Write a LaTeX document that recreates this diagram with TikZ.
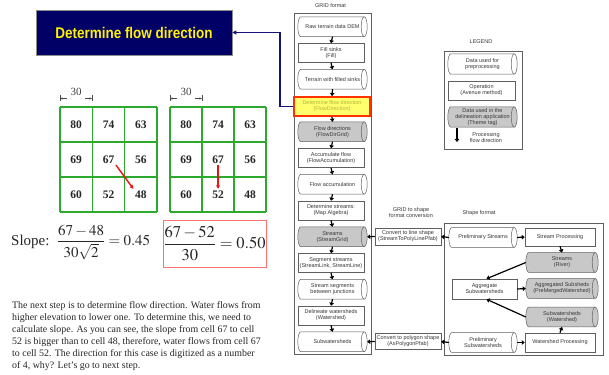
\documentclass[tikz,border=0pt]{standalone}
\usepackage{mathptmx}
\usepackage[no-math]{fontspec}
\setmainfont{Liberation Serif}
\newfontfamily\sansfam{Liberation Sans}
\usetikzlibrary{arrows.meta,calc,backgrounds}

\definecolor{navyfill}{RGB}{0,0,102}
\definecolor{navyline}{RGB}{20,20,120}
\definecolor{gridgreen}{RGB}{45,170,45}
\definecolor{flowline}{RGB}{95,95,95}
\definecolor{flowtext}{RGB}{55,55,55}
\definecolor{datagray}{RGB}{200,200,200}
\definecolor{hilite}{RGB}{255,255,110}
\definecolor{hilitetext}{RGB}{180,180,60}
\definecolor{hiliteborder}{RGB}{255,50,0}
\definecolor{slopebox}{RGB}{255,110,110}
\definecolor{pointer}{RGB}{235,20,20}

\newcommand\flowfont{\sansfam\fontsize{5.5}{6}\selectfont}

% horizontal cylinder drawn behind a data node
\newcommand\datacyl[2]{%
  \draw[flowline, line width=0.5pt, fill=#2]
    ($(#1.north west)+(3pt,0)$) -- ($(#1.north east)+(-3pt,0)$)
    .. controls ($(#1.north east)+(-1.35pt,0)$) and ($(#1.east)+(0,5.4pt)$) .. (#1.east)
    .. controls ($(#1.east)+(0,-5.4pt)$) and ($(#1.south east)+(-1.35pt,0)$) .. ($(#1.south east)+(-3pt,0)$)
    -- ($(#1.south west)+(3pt,0)$)
    .. controls ($(#1.south west)+(1.35pt,0)$) and ($(#1.west)+(0,-5.4pt)$) .. (#1.west)
    .. controls ($(#1.west)+(0,5.4pt)$) and ($(#1.north west)+(1.35pt,0)$) .. cycle;
  \draw[flowline, line width=0.5pt]
    ($(#1.north east)+(-3pt,0)$) .. controls ($(#1.north east)+(-4.65pt,0)$) and ($(#1.east)+(-6pt,5.4pt)$) .. ($(#1.east)+(-6pt,0)$)
    .. controls ($(#1.east)+(-6pt,-5.4pt)$) and ($(#1.south east)+(-4.65pt,0)$) .. ($(#1.south east)+(-3pt,0)$);
}

\tikzset{
  proc/.style={rectangle, draw=flowline, line width=0.5pt, fill=white, inner sep=0pt,
    minimum width=66, minimum height=19, align=center, font=\flowfont, text=flowtext},
  dat/.style={rectangle, inner sep=0pt, minimum width=69, minimum height=19.5,
    align=center, font=\flowfont, text=flowtext},
  lbl/.style={inner sep=0pt, align=center, font=\flowfont, text=flowtext},
  flowarrow/.style={-{Triangle[length=3pt,width=4.5pt]}, line width=1.2pt, black},
  gridline/.style={gridgreen, line width=1.1pt},
  cellnum/.style={inner sep=1.5pt, font=\fontsize{11.5}{12}\selectfont\bfseries, text=black!85},
  pointerarrow/.style={pointer, line width=1.4pt, -{Triangle[length=3.5pt,width=3.5pt]}},
  dimline/.style={black!70, line width=0.4pt},
  box/.style={flowline, line width=0.6pt},
}

\begin{document}
\begin{tikzpicture}[x=1pt,y=-1pt]
\useasboundingbox (0,0) rectangle (609,374);

% ---------- title ----------
\node[fill=navyfill, draw=black!45, line width=0.6pt, minimum width=196, minimum height=45, inner sep=0pt]
  (title) at (134,32.5)
  {\scalebox{0.87}[1]{\sansfam\bfseries\fontsize{15.5}{18}\selectfont\color{yellow}Determine flow direction}};

% ---------- elevation grids ----------
\foreach \k in {0,...,3} {
  \draw[gridline] ({60+32.33*\k},107) -- ({60+32.33*\k},212);
  \draw[gridline] (60,{107+35*\k}) -- (157,{107+35*\k});
  \draw[gridline] ({170+32*\k},107) -- ({170+32*\k},212);
  \draw[gridline] (170,{107+35*\k}) -- (266,{107+35*\k});
}
\foreach \val [count=\i from 0] in {80,74,63,69,67,56,60,52,48} {
  \pgfmathtruncatemacro\rr{int(\i/3)}
  \pgfmathtruncatemacro\cc{mod(\i,3)}
  \node[cellnum] (L\val) at ({76.17+32.33*\cc},{124.5+35*\rr}) {\val};
  \node[cellnum] (R\val) at ({186+32*\cc},{124.5+35*\rr}) {\val};
}
\draw[pointerarrow] (L67.south east) -- (L48.north west);
\draw[pointerarrow] (R67.south) -- (R52.north);

% cell size marks
\foreach \x/\nm in {60/dimA,170/dimB} {
  \draw[dimline] (\x,95.5) -- (\x,101.5);
  \draw[dimline] ({\x+32},95.5) -- ({\x+32},101.5);
  \draw[dimline, -{Stealth[length=2.5pt,width=2pt]}] ({\x+7},98.5) -- (\x,98.5);
  \draw[dimline, -{Stealth[length=2.5pt,width=2pt]}] ({\x+25},98.5) -- ({\x+32},98.5);
  \node[inner sep=0pt, font=\fontsize{11}{12}\selectfont, text=black!75] (\nm) at ({\x+16},92) {30};
}

% ---------- slope ----------
\node[anchor=base west, inner sep=0pt, text=black!85] (slope) at (11,245.5)
  {\fontsize{15}{18}\selectfont Slope:\ \ $\displaystyle\frac{67-48}{30\sqrt{2}}=0.45$};
\node[draw=slopebox, line width=0.9pt, minimum width=103, minimum height=47, inner sep=0pt, text=black!85]
  (steep) at (214.5,243.5)
  {\fontsize{16.5}{19}\selectfont$\displaystyle\frac{67-52}{30}=0.50$};

% ---------- explanation ----------
\node[anchor=north west, inner sep=0pt, align=left, text=black!85,
      font=\fontsize{9.9}{12}\selectfont] (para) at (12,301.5)
  {The next step is to determine flow direction. Water flows from\\
   higher elevation to lower one. To determine this, we need to\\
   calculate slope. As you can see, the slope from cell 67 to cell\\
   52 is bigger than to cell 48, therefore, water flows from cell 67\\
   to cell 52. The direction for this case is digitized as a number\\
   of 4, why? Let’s go to next step.};

% ---------- GRID format column ----------
\node[lbl] (gridlbl) at (330.5,6) {GRID format};
\draw[box] (294,13) rectangle (371,354);

\node[dat] (raw) at (332.5,26.75) {Raw terrain data DEM};
\node[proc] (fill) at (331,53) {Fill sinks\\(Fill)};
\node[dat] (filled) at (332.5,79.25) {Terrain with filled sinks};
\node[proc, fill=hilite, draw=hiliteborder, line width=1.8pt, minimum width=76, minimum height=19,
      text=hilitetext] (fdir) at (332,106.5) {Determine flow direction\\(FlowDirection)};
\node[dat] (fdgrid) at (332.5,131.75) {Flow directions\\(FlowDirGrid)};
\node[proc] (accum) at (331,158) {Accumulate flow\\(FlowAccumulation)};
\node[dat] (facc) at (332.5,184.25) {Flow accumulation};
\node[proc] (dstream) at (331,210.5) {Determine streams:\\(Map Algebra)};
\node[dat] (sgrid) at (332.5,236.75) {Streams\\(StreamGrid)};
\node[proc] (seg) at (331,263) {Segment streams\\(StreamLink, StreamLine)};
\node[dat] (segs) at (332.5,289.25) {Stream segments\\between junctions};
\node[proc] (delin) at (331,315.5) {Delineate watersheds\\(Watershed)};
\node[dat] (subw) at (332.5,341.75) {Subwatersheds};

\foreach \a/\b in {raw/fill,fill/filled,filled/fdir,fdir/fdgrid,fdgrid/accum,accum/facc,
                   facc/dstream,dstream/sgrid,sgrid/seg,seg/segs,segs/delin,delin/subw}
  \draw[flowarrow] (\a.south) -- (\b.north);

% link to the title
\coordinate (bend) at (280,32.5);
\draw[navyline, line width=1.3pt, -{Triangle[length=4pt,width=4pt]}] (fdir.west) -| (bend) -- (title.east);

% ---------- conversion ----------
\node[lbl] (convlbl) at (411,213) {GRID to shape\\format conversion};
\node[proc, minimum height=17] (convline) at (408,236.5) {Convert to line shape\\(StreamToPolyLinePfab)};
\node[proc, minimum height=16] (convpoly) at (408,341.5) {Convert to polygon shape\\(AsPolygonPfab)};

% ---------- Shape format ----------
\node[lbl] (shapelbl) at (479,213) {Shape format};
\draw[box] (444,223) rectangle (603,355);

\node[dat, minimum width=68] (pstreams) at (483,237.5) {Preliminary Streams};
\node[proc, minimum width=70, minimum height=18] (sproc) at (560,237) {Stream Processing};
\node[dat, minimum width=72] (river) at (562,262.5) {Streams\\(River)};
\node[proc, minimum width=65, minimum height=20] (aggr) at (484.5,289) {Aggregate\\Subwatersheds};
\node[dat, minimum width=72] (aggsub) at (562,288.5) {Aggregated Subsheds\\(PreMergedWatershed)};
\node[dat, minimum width=72] (wshed) at (562,317) {Subwatersheds\\(Watershed)};
\node[dat, minimum width=68] (psub) at (483,342.5) {Preliminary\\Subwatersheds};
\node[proc, minimum width=70, minimum height=19] (wproc) at (560,342.5) {Watershed Processing};

\draw[flowarrow] (convline.west) -- (sgrid.east);
\draw[flowarrow] (pstreams.west) -- (convline.east);
\draw[flowarrow] (convpoly.west) -- (subw.east);
\draw[flowarrow] (psub.west) -- (convpoly.east);
\draw[flowarrow] (pstreams.east) -- (sproc.west);
\draw[flowarrow] (sproc.south) -- (river.north);
\draw[flowarrow] (river.west) -- ($(aggr.north)+(2,0)$);
\draw[flowarrow] (wshed.west) -- ($(aggr.south)+(2,0)$);
\draw[flowarrow] (aggr.east) -- (aggsub.west);
\draw[flowarrow] (psub.east) -- (wproc.west);
\draw[flowarrow] (wproc.north) -- (wshed.south);

% ---------- legend ----------
\node[lbl] (leglbl) at (481,42) {LEGEND};
\draw[box] (444,51) rectangle (522,149);
\node[dat, minimum height=20] (legdata) at (482.5,64) {Data used for\\preprocessing};
\node[proc, minimum width=67] (legop) at (481.5,90.5) {Operation\\(Avenue method)};
\node[dat, minimum height=20] (legtheme) at (482.5,117) {Data used in the\\delineation application\\(Theme tag)};
\coordinate (legA) at (457,128);
\coordinate (legB) at (457,142);
\draw[flowarrow] (legA) -- (legB);
\node[lbl] (legflow) at (486,137.5) {Processing\\flow direction};

% ---------- page and cylinder outlines behind everything ----------
\begin{pgfonlayer}{background}
  \fill[white] (0,0) rectangle (609,374);
  \foreach \n/\f in {raw/white,filled/white,fdgrid/datagray,facc/white,sgrid/datagray,segs/white,
                     subw/white,pstreams/white,river/datagray,aggsub/datagray,wshed/datagray,
                     psub/white,legdata/white,legtheme/datagray}
    {\datacyl{\n}{\f}}
\end{pgfonlayer}
\end{tikzpicture}
\end{document}
